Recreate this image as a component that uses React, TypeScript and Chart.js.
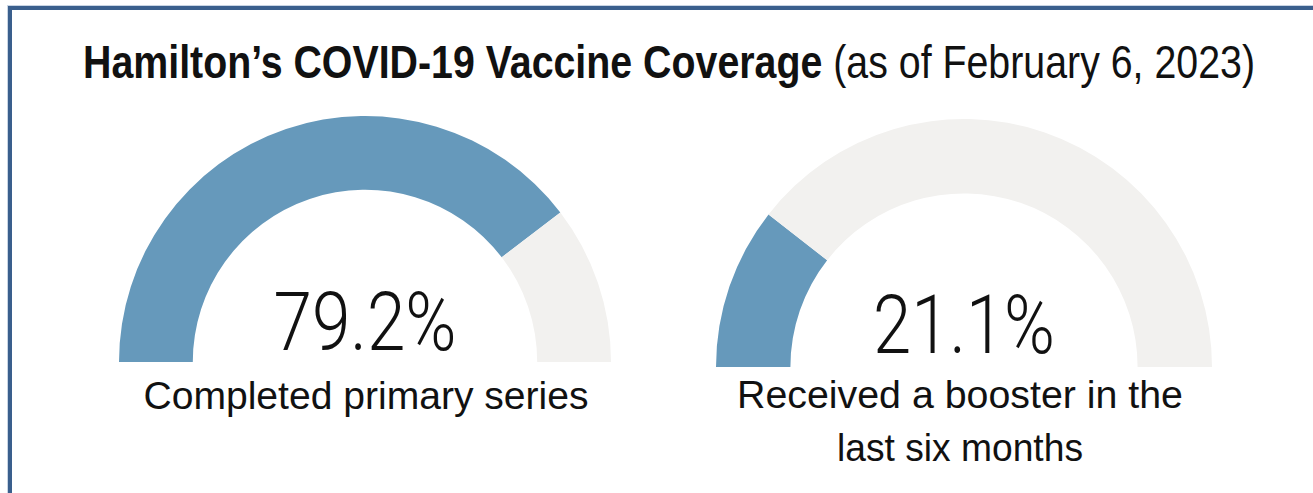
import React, { useEffect, useLayoutEffect, useRef, useState } from 'react';
import { Chart, registerables } from 'chart.js';

Chart.register(...registerables);

// ---- data ----
const gaugeLabels = ['Vaccinated', 'Not yet'];
const primarySeries = [79.2, 20.8];
const boosterSeries = [21.1, 78.9];
const titleBold = 'Hamilton\u2019s COVID-19 Vaccine Coverage';
const titleRest = ' (as of February 6, 2023)';
const primaryCaption = ['Completed primary series'];
const boosterCaption = ['Received a booster in the', 'last six months'];

// ---- styles ----
const FILL = '#6699BB';
const TRACK = '#F2F1EF';
const FRAME = '#3A5F8D';
const TEXT = '#111111';

let measureCtx: CanvasRenderingContext2D | null = null;
function measure(text: string, font: string): number {
  if (!measureCtx) measureCtx = document.createElement('canvas').getContext('2d');
  measureCtx!.font = font;
  return measureCtx!.measureText(text).width;
}

function baselineOffset(size: number, lineHeight: number) {
  // Liberation Sans: ascent 0.905, descent 0.212
  return (lineHeight - 1.117 * size) / 2 + 0.905 * size;
}

function FitLine({ text, family, size, weight, cx, baseline, width, lineHeight }: any) {
  const font = `${weight} ${size}px ${family}`;
  const [k, setK] = useState(1);
  useLayoutEffect(() => {
    const w = measure(text, font);
    setK(w > 0 ? width / w : 1);
  }, [text, font, width]);
  return (
    <div
      style={{
        position: 'absolute',
        left: cx,
        top: baseline - baselineOffset(size, lineHeight),
        whiteSpace: 'nowrap',
        font,
        lineHeight: `${lineHeight}px`,
        color: TEXT,
        transform: `translateX(-50%) scaleX(${k})`,
      }}
    >
      {text}
    </div>
  );
}

function Title() {
  const family = '"Liberation Sans", Arial, sans-serif';
  const size = 46;
  const fb = `bold ${size}px ${family}`;
  const fn = `normal ${size}px ${family}`;
  const [k, setK] = useState(1);
  useLayoutEffect(() => {
    const w = measure(titleBold, fb) + measure(titleRest, fn);
    setK(1172 / w);
  }, []);
  return (
    <div
      style={{
        position: 'absolute',
        left: 669,
        top: 78 - baselineOffset(size, size),
        whiteSpace: 'pre',
        fontFamily: family,
        fontSize: size,
        lineHeight: `${size}px`,
        color: TEXT,
        transform: `translateX(-50%) scaleX(${k})`,
      }}
    >
      <span style={{ fontWeight: 'bold' }}>{titleBold}</span>
      <span style={{ fontWeight: 'normal' }}>{titleRest}</span>
    </div>
  );
}

function Gauge({ values, left, top, radius, textWidth, textLift }: any) {
  const ref = useRef<HTMLCanvasElement>(null);
  const w = radius * 2;
  const h = radius;
  useEffect(() => {
    const chart = new Chart(ref.current!, {
      type: 'doughnut',
      data: {
        labels: gaugeLabels,
        datasets: [
          {
            data: values,
            backgroundColor: [FILL, TRACK],
            borderWidth: 0,
            hoverOffset: 0,
          },
        ],
      },
      options: {
        responsive: false,
        maintainAspectRatio: false,
        animation: false,
        rotation: -90,
        circumference: 180,
        cutout: '70%',
        layout: { padding: 0 },
        events: [],
        plugins: { legend: { display: false }, tooltip: { enabled: false } },
      },
      plugins: [
        {
          id: 'centerText',
          afterDraw(c: any) {
            const arc = c.getDatasetMeta(0).data[0] as any;
            const ctx = c.ctx as CanvasRenderingContext2D;
            const txt = values[0].toFixed(1) + '%';
            ctx.save();
            ctx.font = '300 82px Roboto, "DejaVu Sans", sans-serif';
            const tw = ctx.measureText(txt).width;
            ctx.translate(arc.x, arc.y - textLift);
            ctx.scale(textWidth / tw, 1);
            ctx.textAlign = 'center';
            ctx.textBaseline = 'alphabetic';
            ctx.fillStyle = TEXT;
            ctx.fillText(txt, 0, 0);
            ctx.restore();
          },
        },
      ],
    } as any);
    return () => chart.destroy();
  }, []);
  return (
    <canvas
      ref={ref}
      width={w}
      height={h}
      style={{ position: 'absolute', left, top, width: w, height: h }}
    />
  );
}

export default function App() {
  const capFamily = '"Liberation Sans", Arial, sans-serif';
  const capSize = 38;
  return (
    <div
      style={{
        position: 'fixed',
        left: 0,
        top: 0,
        width: 1313,
        height: 493,
        overflow: 'hidden',
        background: '#fff',
      }}
    >
      <div
        style={{
          position: 'absolute',
          left: 8,
          top: 6,
          width: 1400,
          height: 600,
          borderLeft: `4px solid ${FRAME}`,
          borderTop: `4px solid ${FRAME}`,
          boxShadow: '0 0 0 1px #C9D5E4',
        }}
      />
      <Title />
      <Gauge values={primarySeries} left={119} top={116} radius={246} textWidth={183} textLift={12} />
      <Gauge values={boosterSeries} left={716} top={119} radius={248} textWidth={182} textLift={14} />
      <FitLine
        text={primaryCaption[0]}
        family={capFamily}
        size={capSize}
        weight="normal"
        cx={365.5}
        baseline={410}
        width={445}
        lineHeight={53}
      />
      <FitLine
        text={boosterCaption[0]}
        family={capFamily}
        size={capSize}
        weight="normal"
        cx={960}
        baseline={409}
        width={446}
        lineHeight={53}
      />
      <FitLine
        text={boosterCaption[1]}
        family={capFamily}
        size={capSize}
        weight="normal"
        cx={960}
        baseline={462}
        width={246}
        lineHeight={53}
      />
    </div>
  );
}
